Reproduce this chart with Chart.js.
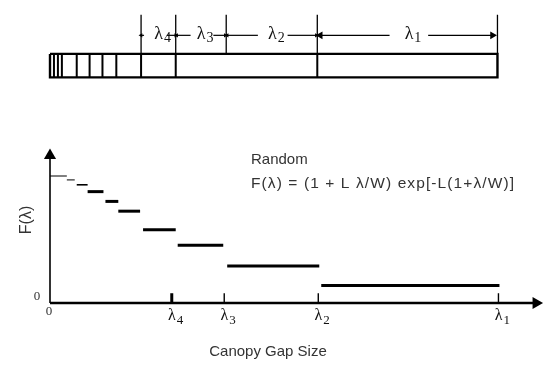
<!DOCTYPE html>
<html><head><meta charset="utf-8">
<script src="https://cdn.jsdelivr.net/npm/chart.js@4.4.1/dist/chart.umd.min.js"></script>
<style>html,body{margin:0;padding:0;background:#fff;} #wrap{width:550px;height:367px;position:relative;}</style>
</head><body><div id="wrap"><canvas id="c"></canvas></div>
<script>
// ---- data ----
// F(lambda) step function (gap size from, gap size to, F value)
const stepStart = [0, 17, 27, 38, 56, 69, 94, 129, 179, 274];
const stepEnd   = [17, 25, 38, 54, 69, 91, 127, 175, 272, 454];
const stepValue = [130, 126, 121, 114, 104, 94, 75, 59, 38, 18];
// axis extents
const gapMax = 498;
const fMax = 158;
// tick positions on the gap-size axis and their subscripts
const tickValues = [123, 176, 271, 453];
const tickSubs = ['4', '3', '2', '1'];
// top strip: gap boundaries
const gapEdges = [0, 4, 8, 12, 27, 40, 53, 67, 92, 127, 270, 452];
const spanEdges = [92, 127, 178, 270, 452];
const spanSubs = ['4', '3', '2', '1'];
const spanLabelAt = [110, 153, 225, 363];
const arrowFrom = [92, 118, 128, 165, 179, 240, 273, 382];
const arrowTo   = [95, 127, 142, 177, 210, 269, 343, 447];

// ---- layout constants (diagram y scale in strip units) ----
const L = { boxTop: 48, boxBot: 72, lineTop: 8, arrowY: 29, labelY: 28 };

const datasets = [];
const base = { showLine: true, pointRadius: 0, borderColor: '#000', backgroundColor: '#000', fill: false, spanGaps: false, clip: false, borderCapStyle: 'butt' };

// Strip outline
datasets.push(Object.assign({}, base, { yAxisID: 'yd', borderWidth: 2.4,
  data: [{x: gapEdges[0], y: L.boxTop}, {x: gapEdges[gapEdges.length-1], y: L.boxTop}, {x: gapEdges[gapEdges.length-1], y: L.boxBot}, {x: gapEdges[0], y: L.boxBot}, {x: gapEdges[0], y: L.boxTop}] }));
// Dividers
const div = [];
gapEdges.slice(1, -1).forEach(e => { div.push({x: e, y: L.boxTop}, {x: e, y: L.boxBot}, {x: e, y: null}); });
datasets.push(Object.assign({}, base, { yAxisID: 'yd', borderWidth: 2, data: div }));
// Span marker lines
const sp = [];
spanEdges.forEach(e => { sp.push({x: e, y: L.lineTop}, {x: e, y: L.boxTop}, {x: e, y: null}); });
datasets.push(Object.assign({}, base, { yAxisID: 'yd', borderWidth: 1.3, data: sp }));
// Span arrows
arrowFrom.forEach((a, i) => {
  const leftHead = i % 2 === 0;
  const big = i >= 6;
  datasets.push(Object.assign({}, base, { yAxisID: 'yd', borderWidth: 1.2,
    data: [{x: a, y: L.arrowY}, {x: arrowTo[i], y: L.arrowY}],
    pointStyle: 'triangle',
    pointRadius: leftHead ? [big ? 4.5 : 2.5, 0] : [0, big ? 4.5 : 2.5],
    pointRotation: leftHead ? -90 : 90,
    pointBorderWidth: 0 }));
});

// Axes lines
datasets.push(Object.assign({}, base, { yAxisID: 'y', borderWidth: 2.4,
  data: [{x: 0, y: 0}, {x: gapMax - 5, y: 0}] }));
datasets.push(Object.assign({}, base, { yAxisID: 'y', borderWidth: 1.6,
  data: [{x: 0, y: 0}, {x: 0, y: fMax - 6}] }));
// Arrowheads
datasets.push(Object.assign({}, base, { yAxisID: 'y', showLine: false, pointStyle: 'triangle', pointRadius: 7, pointRotation: 90, pointBorderWidth: 0,
  data: [{x: gapMax - 7, y: 0}] }));
datasets.push(Object.assign({}, base, { yAxisID: 'y', showLine: false, pointStyle: 'triangle', pointRadius: 7, pointRotation: 0, pointBorderWidth: 0,
  data: [{x: 0, y: fMax - 7}] }));
// Tick marks
tickValues.forEach((t, i) => {
  datasets.push(Object.assign({}, base, { yAxisID: 'y', borderWidth: i === 0 ? 3 : 1.4,
    data: [{x: t, y: 0}, {x: t, y: 10}] }));
});
// Steps
stepStart.forEach((s, i) => {
  datasets.push(Object.assign({}, base, { yAxisID: 'y', borderWidth: i < 2 ? 1 : (i === 2 ? 1.6 : 3),
    data: [{x: s, y: stepValue[i]}, {x: stepEnd[i], y: stepValue[i]}] }));
});

function lam(ctx, x, y, sub, size, subSize, dx, dy) {
  ctx.font = size + 'px "Liberation Serif"';
  ctx.textAlign = 'right';
  ctx.textBaseline = 'middle';
  ctx.fillText('λ', x + dx, y);
  ctx.font = subSize + 'px "Liberation Serif"';
  ctx.textAlign = 'left';
  ctx.fillText(sub, x + dx + 1, y + dy);
}

const textPlugin = {
  id: 'texts',
  afterDatasetsDraw(chart) {
    const ctx = chart.ctx;
    const xs = chart.scales.x, ys = chart.scales.y, yd = chart.scales.yd;
    ctx.save();
    ctx.fillStyle = '#111';
    // tick labels
    tickValues.forEach((t, i) => {
      lam(ctx, xs.getPixelForValue(t), ys.getPixelForValue(0) + 13, tickSubs[i], 16, 13, 4, 5);
    });
    // strip labels
    spanLabelAt.forEach((c, i) => {
      lam(ctx, xs.getPixelForValue(c), yd.getPixelForValue(L.labelY), spanSubs[i], 18, 14, 4, 4);
    });
    // zeros
    ctx.fillStyle = '#333';
    ctx.font = '13px "Liberation Serif"';
    ctx.textAlign = 'center'; ctx.textBaseline = 'middle';
    ctx.fillText('0', xs.getPixelForValue(0) - 13, ys.getPixelForValue(0) - 6);
    ctx.fillText('0', xs.getPixelForValue(0) - 1, ys.getPixelForValue(0) + 9);
    // sans texts
    ctx.fillStyle = '#333';
    ctx.font = '15px "Liberation Sans"';
    ctx.textAlign = 'left';
    ctx.fillText('Random', 251, 160);
    ctx.font = '15.5px "Liberation Sans"';
    ctx.letterSpacing = '1.1px';
    ctx.fillText('F(λ) = (1 + L λ/W) exp[-L(1+λ/W)]', 251, 184);
    ctx.letterSpacing = '0px';
    ctx.font = '15px "Liberation Sans"';
    ctx.textAlign = 'center';
    ctx.fillText('Canopy Gap Size', 268, 352);
    ctx.font = '16px "Liberation Sans"';
    ctx.translate(27, 220);
    ctx.rotate(-Math.PI / 2);
    ctx.fillText('F(λ)', 0, 0);
    ctx.restore();
  }
};

new Chart(document.getElementById('c'), {
  type: 'scatter',
  data: { datasets },
  options: {
    responsive: true, maintainAspectRatio: false, animation: false,
    layout: { padding: { left: 50, right: 2, top: 0, bottom: 64 } },
    plugins: { legend: { display: false }, tooltip: { enabled: false } },
    scales: {
      x: { type: 'linear', display: false, min: 0, max: gapMax },
      y: { type: 'linear', display: false, min: 0, max: 303 * fMax / 158 },
      yd: { type: 'linear', display: false, min: 0, max: 303, reverse: true }
    }
  },
  plugins: [textPlugin]
});
</script></body></html>
